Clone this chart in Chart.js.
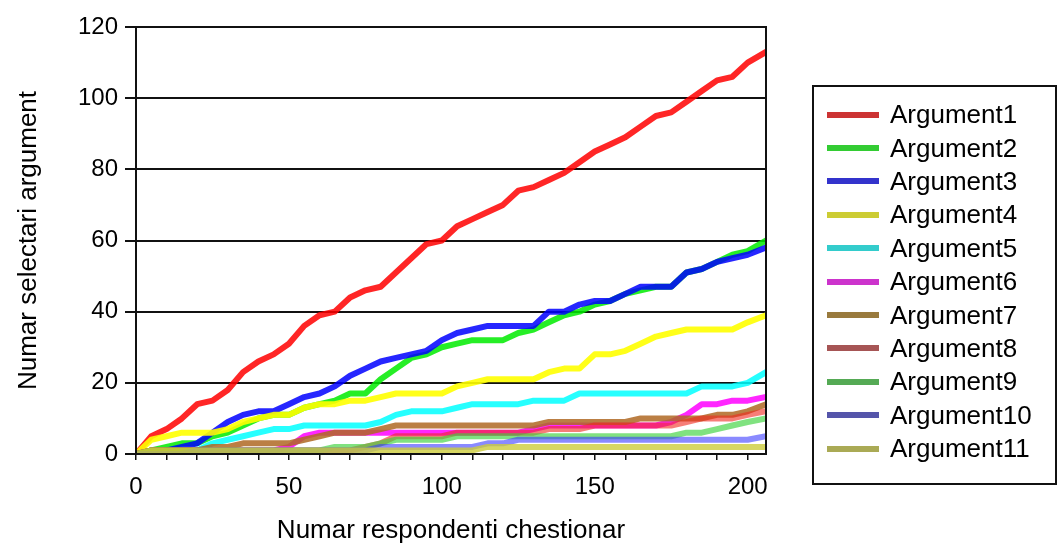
<!DOCTYPE html>
<html>
<head>
<meta charset="utf-8">
<script src="https://cdn.jsdelivr.net/npm/chart.js@4/dist/chart.umd.min.js"></script>
<style>
  body { margin: 0; background: #fff; font-family: "Liberation Sans", Arial, sans-serif; }
  #wrap { position: relative; width: 1058px; height: 544px; }
  #legend {
    position: absolute; left: 812px; top: 85px; width: 241px; height: 385px;
    border: 2px solid #111; padding-top: 11px; box-sizing: content-box;
  }
  .item { height: 33.4px; display: flex; align-items: center; font-size: 26px; color: #000; white-space: nowrap; }
  .item span.ln { display: inline-block; width: 52px; height: 6px; margin-left: 13px; margin-right: 11px; }
</style>
</head>
<body>
<div id="wrap">
  <canvas id="chart" width="1058" height="544"></canvas>
  <div id="legend"></div>
</div>
<script>
// numarul respondentului (axa x)
const respondents = [0, 5, 10, 15, 20, 25, 30, 35, 40, 45, 50, 55, 60, 65, 70, 75, 80, 85, 90, 95,
  100, 105, 110, 115, 120, 125, 130, 135, 140, 145, 150, 155, 160, 165, 170, 175, 180, 185, 190, 195, 200, 206];

// numar cumulat de selectari pentru fiecare argument
const arg1 = [0, 5, 7, 10, 14, 15, 18, 23, 26, 28, 31, 36, 39, 40, 44, 46, 47, 51, 55, 59,
  60, 64, 66, 68, 70, 74, 75, 77, 79, 82, 85, 87, 89, 92, 95, 96, 99, 102, 105, 106, 110, 113];
const arg2 = [0, 1, 2, 3, 3, 5, 6, 8, 10, 11, 11, 13, 14, 15, 17, 17, 21, 24, 27, 28,
  30, 31, 32, 32, 32, 34, 35, 37, 39, 40, 42, 43, 45, 46, 47, 47, 51, 52, 54, 56, 57, 60];
const arg3 = [0, 0, 1, 2, 3, 6, 9, 11, 12, 12, 14, 16, 17, 19, 22, 24, 26, 27, 28, 29,
  32, 34, 35, 36, 36, 36, 36, 40, 40, 42, 43, 43, 45, 47, 47, 47, 51, 52, 54, 55, 56, 58];
const arg4 = [0, 4, 5, 6, 6, 6, 7, 9, 10, 11, 11, 13, 14, 14, 15, 15, 16, 17, 17, 17,
  17, 19, 20, 21, 21, 21, 21, 23, 24, 24, 28, 28, 29, 31, 33, 34, 35, 35, 35, 35, 37, 39];
const arg5 = [0, 0, 0, 0, 1, 3, 4, 5, 6, 7, 7, 8, 8, 8, 8, 8, 9, 11, 12, 12,
  12, 13, 14, 14, 14, 14, 15, 15, 15, 17, 17, 17, 17, 17, 17, 17, 17, 19, 19, 19, 20, 23];
const arg6 = [0, 1, 1, 1, 1, 1, 1, 1, 1, 1, 2, 5, 6, 6, 6, 6, 6, 6, 6, 6,
  6, 6, 6, 6, 6, 6, 7, 8, 8, 8, 8, 8, 8, 8, 8, 9, 11, 14, 14, 15, 15, 16];
const arg7 = [0, 1, 1, 1, 1, 2, 2, 3, 3, 3, 3, 4, 5, 6, 6, 6, 7, 8, 8, 8,
  8, 8, 8, 8, 8, 8, 8, 9, 9, 9, 9, 9, 9, 10, 10, 10, 10, 10, 11, 11, 12, 14];
const arg8 = [0, 1, 1, 1, 1, 1, 1, 1, 1, 1, 1, 1, 1, 1, 1, 2, 3, 5, 5, 5,
  5, 6, 6, 6, 6, 6, 6, 7, 7, 7, 8, 8, 8, 8, 8, 8, 9, 10, 10, 10, 11, 12];
const arg9 = [0, 1, 1, 1, 1, 1, 1, 1, 1, 1, 1, 1, 1, 2, 2, 2, 3, 4, 4, 4,
  4, 5, 5, 5, 5, 5, 5, 5, 5, 5, 5, 5, 5, 5, 5, 5, 6, 6, 7, 8, 9, 10];
const arg10 = [0, 0, 0, 0, 1, 1, 1, 1, 1, 1, 1, 1, 1, 1, 1, 1, 2, 2, 2, 2,
  2, 2, 2, 3, 3, 4, 4, 4, 4, 4, 4, 4, 4, 4, 4, 4, 4, 4, 4, 4, 4, 5];
const arg11 = [0, 1, 1, 1, 1, 1, 1, 1, 1, 1, 1, 1, 1, 1, 1, 1, 1, 1, 1, 1,
  1, 1, 1, 2, 2, 2, 2, 2, 2, 2, 2, 2, 2, 2, 2, 2, 2, 2, 2, 2, 2, 2];

const seriesNames = ['Argument1', 'Argument2', 'Argument3', 'Argument4', 'Argument5', 'Argument6',
  'Argument7', 'Argument8', 'Argument9', 'Argument10', 'Argument11'];
const seriesValues = [arg1, arg2, arg3, arg4, arg5, arg6, arg7, arg8, arg9, arg10, arg11];

const xTicks = [0, 50, 100, 150, 200];
const yTicks = [0, 20, 40, 60, 80, 100, 120];

// culori pe grafic (mai vii) si in legenda (mai sterse)
const lineColors = ['rgba(255,0,0,0.85)', 'rgba(0,235,0,0.85)', 'rgba(0,0,255,0.85)', 'rgba(255,255,0,0.9)',
  'rgba(0,255,255,0.85)', 'rgba(255,0,255,0.85)', 'rgba(175,105,35,0.85)', 'rgba(240,40,30,0.6)',
  'rgba(60,210,60,0.65)', 'rgba(60,60,255,0.6)', 'rgba(205,205,60,0.8)'];
const legendColors = ['#cc3333', '#33cc33', '#3333cc', '#cccc33', '#33cccc', '#cc33cc',
  '#997a3d', '#a65555', '#55aa55', '#5555aa', '#aaaa55'];

Chart.defaults.font.family = '"Liberation Sans", Arial, sans-serif';
Chart.defaults.color = '#000';

const datasets = seriesNames.map((name, i) => ({
  label: name,
  data: seriesValues[i].map((v, j) => ({ x: respondents[j], y: v })),
  borderColor: lineColors[i],
  backgroundColor: lineColors[i],
  borderWidth: 6,
  pointRadius: 0,
  tension: 0,
  borderJoinStyle: 'round',
  borderCapStyle: 'round',
  order: -i
}));

// rama din jurul zonei graficului
const framePlugin = {
  id: 'frame',
  afterDatasetsDraw(chart) {
    const a = chart.chartArea;
    const ctx = chart.ctx;
    ctx.save();
    ctx.strokeStyle = '#111';
    ctx.lineWidth = 2;
    ctx.strokeRect(a.left, a.top, a.right - a.left, a.bottom - a.top);
    ctx.restore();
  }
};

const chart = new Chart(document.getElementById('chart'), {
  type: 'line',
  data: { datasets },
  plugins: [framePlugin],
  options: {
    responsive: false,
    animation: false,
    layout: { padding: { top: 27, right: 292, left: 0, bottom: 0 } },
    plugins: { legend: { display: false }, tooltip: { enabled: false } },
    scales: {
      x: {
        type: 'linear',
        min: 0,
        max: 206,
        afterFit: s => { s.height = 90; },
        border: { color: '#111', width: 2 },
        grid: { drawOnChartArea: false, color: '#111', lineWidth: 1.5, tickLength: 6 },
        ticks: {
          stepSize: 10,
          includeBounds: false,
          autoSkip: false,
          maxRotation: 0,
          padding: 13,
          font: { size: 24 },
          callback: v => xTicks.includes(v) ? String(v) : ''
        },
        title: { display: true, text: 'Numar respondenti chestionar', font: { size: 26, lineHeight: 1.0 }, padding: { top: 0, bottom: 0 } }
      },
      y: {
        min: 0,
        max: 120,
        afterFit: s => { s.width = 136; },
        afterBuildTicks: s => { s.ticks = yTicks.map(v => ({ value: v })); },
        border: { color: '#111', width: 2 },
        grid: { color: '#111', lineWidth: 2, tickLength: 11 },
        ticks: { padding: 7, font: { size: 24 } },
        title: { display: true, text: 'Numar selectari argument', font: { size: 26 }, padding: { top: 13, bottom: 0 } }
      }
    }
  }
});

// legenda in HTML, construita din seturile de date
const legendEl = document.getElementById('legend');
chart.data.datasets.forEach((ds, i) => {
  const row = document.createElement('div');
  row.className = 'item';
  row.innerHTML = `<span class="ln" style="background:${legendColors[i]}"></span>${ds.label}`;
  legendEl.appendChild(row);
});
</script>
</body>
</html>
